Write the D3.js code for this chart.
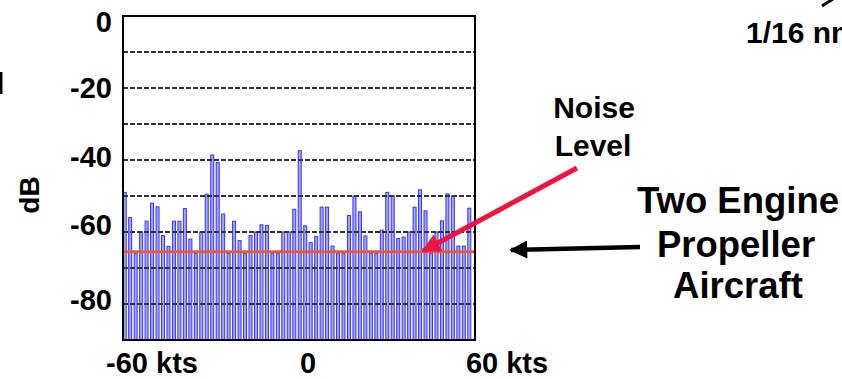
<!DOCTYPE html>
<html>
<head>
<meta charset="utf-8">
<script src="https://cdn.jsdelivr.net/npm/d3@7"></script>
<style>
  body { margin: 0; background: #fff; }
  svg { display: block; font-family: "Liberation Sans", Arial, sans-serif; font-weight: bold; }
</style>
</head>
<body>
<div id="chart"></div>
<script>
// doppler spectrum, one value per velocity bin (-60 kts .. 60 kts)
var spectrum_db = [
    -49, -56, -66, -60, -57, -52, -53, -61, -64, -57, -57, -53.5, -62, -66, -60, -49.5,
    -38.6, -40.7, -55, -66, -57, -62.4, -66, -61, -60, -58, -58.2, -66, -66, -60, -60, -53.7,
    -37.4, -58.3, -62.9, -61.3, -53.1, -53.1, -63.9, -66, -66, -55.4, -50, -54.4, -61.1, -66, -66, -59.5,
    -49, -50, -61.8, -61.4, -60, -53.1, -48.3, -54.1, -66, -60, -56.9, -49.4, -50, -63.9, -63.9, -53.4
];
var noise_db = -65.5;
var y_ticks = [0, -20, -40, -60, -80];
var grid_db = [-10, -20, -30, -40, -50, -60, -70, -80];
var x_ticks = [-60, 0, 60];
var x_tick_labels = ["-60 kts", "0", "60 kts"];

var width = 842, height = 379;
var plot = {left: 123, right: 475, top: 16, bottom: 340};

var svg = d3.select("#chart")
    .append("svg")
    .attr("width", width)
    .attr("height", height);

var yScale = d3.scaleLinear()
    .domain([-90, 0])
    .range([plot.bottom, plot.top]);

var xBand = d3.scaleBand()
    .domain(d3.range(spectrum_db.length))
    .range([123.2, 470.8])
    .paddingInner(0.45);

var xKts = d3.scaleLinear()
    .domain([-60, 60])
    .range([plot.left + 2, plot.right - 6]);

// bars
svg.append("g")
    .selectAll("rect")
    .data(spectrum_db)
    .enter()
    .append("rect")
    .attr("x", function(d, i) { return xBand(i); })
    .attr("width", xBand.bandwidth())
    .attr("y", function(d) { return yScale(d); })
    .attr("height", function(d) { return plot.bottom - yScale(d); })
    .attr("fill", "#a6a6ff")
    .attr("stroke", "#3434ff")
    .attr("stroke-width", 1);

// dashed grid
svg.append("g")
    .selectAll("line")
    .data(grid_db)
    .enter()
    .append("line")
    .attr("x1", plot.left)
    .attr("x2", plot.right)
    .attr("y1", function(d) { return yScale(d); })
    .attr("y2", function(d) { return yScale(d); })
    .attr("stroke", "#333")
    .attr("stroke-width", 2)
    .attr("stroke-dasharray", "5,2");

// noise level
svg.append("line")
    .attr("x1", plot.left)
    .attr("x2", plot.right)
    .attr("y1", yScale(noise_db))
    .attr("y2", yScale(noise_db))
    .attr("stroke", "#ec5a34")
    .attr("stroke-width", 3);

// frame
svg.append("rect")
    .attr("x", plot.left)
    .attr("y", plot.top)
    .attr("width", plot.right - plot.left)
    .attr("height", plot.bottom - plot.top)
    .attr("fill", "none")
    .attr("stroke", "#000")
    .attr("stroke-width", 2);

// y tick labels
var y_offset = {"0": 6, "-20": 0, "-40": -3, "-60": -7, "-80": -4};
svg.append("g")
    .selectAll("text")
    .data(y_ticks)
    .enter()
    .append("text")
    .attr("x", 112)
    .attr("y", function(d) { return yScale(d) + y_offset[d] + 10; })
    .attr("text-anchor", "end")
    .style("font-size", "29px")
    .text(function(d) { return d; });

svg.append("text")
    .attr("transform", "translate(39,195) rotate(-90)")
    .attr("text-anchor", "middle")
    .style("font-size", "28px")
    .text("dB");

// x tick labels
var x_offset = [27, 11, 38];
svg.append("g")
    .selectAll("text")
    .data(x_ticks)
    .enter()
    .append("text")
    .attr("x", function(d, i) { return xKts(d) + x_offset[i]; })
    .attr("y", 373)
    .attr("text-anchor", "middle")
    .style("font-size", "29px")
    .text(function(d, i) { return x_tick_labels[i]; });

// annotations
var defs = svg.append("defs");
defs.append("marker")
    .attr("id", "redhead")
    .attr("viewBox", "0 0 10 10")
    .attr("refX", 9).attr("refY", 5)
    .attr("markerWidth", 4.4).attr("markerHeight", 3.8)
    .attr("markerUnits", "strokeWidth")
    .attr("orient", "auto")
    .append("path").attr("d", "M0,0L10,5L0,10Z").attr("fill", "#ee1640");
defs.append("marker")
    .attr("id", "blackhead")
    .attr("viewBox", "0 0 10 10")
    .attr("refX", 9).attr("refY", 5)
    .attr("markerWidth", 4.4).attr("markerHeight", 4)
    .attr("markerUnits", "strokeWidth")
    .attr("orient", "auto")
    .append("path").attr("d", "M0,0L10,5L0,10Z").attr("fill", "#000");

svg.append("line")
    .attr("x1", 577).attr("y1", 168)
    .attr("x2", 423).attr("y2", 251)
    .attr("stroke", "#ee1640")
    .attr("stroke-width", 5)
    .attr("marker-end", "url(#redhead)");

svg.append("line")
    .attr("x1", 640).attr("y1", 247)
    .attr("x2", 511).attr("y2", 250)
    .attr("stroke", "#000")
    .attr("stroke-width", 4.5)
    .attr("marker-end", "url(#blackhead)");

svg.append("text").attr("x", 594).attr("y", 118).attr("text-anchor", "middle")
    .style("font-size", "30px").text("Noise");
svg.append("text").attr("x", 593).attr("y", 156).attr("text-anchor", "middle")
    .style("font-size", "30px").text("Level");

svg.append("text").attr("x", 738).attr("y", 213).attr("text-anchor", "middle")
    .style("font-size", "36.5px").text("Two Engine");
svg.append("text").attr("x", 736).attr("y", 257).attr("text-anchor", "middle")
    .style("font-size", "36.5px").text("Propeller");
svg.append("text").attr("x", 738).attr("y", 298).attr("text-anchor", "middle")
    .style("font-size", "36.5px").text("Aircraft");

// cut-off bits from the neighbouring panels (the reference crops these too)
svg.append("text").attr("x", 746).attr("y", 43)
    .style("font-size", "30px").text("1/16 nm");
svg.append("line")
    .attr("x1", 822).attr("y1", 6).attr("x2", 833).attr("y2", -1)
    .attr("stroke", "#000").attr("stroke-width", 3);
svg.append("line")
    .attr("x1", 1).attr("y1", 72).attr("x2", 1).attr("y2", 94)
    .attr("stroke", "#000").attr("stroke-width", 3);
</script>
</body>
</html>
